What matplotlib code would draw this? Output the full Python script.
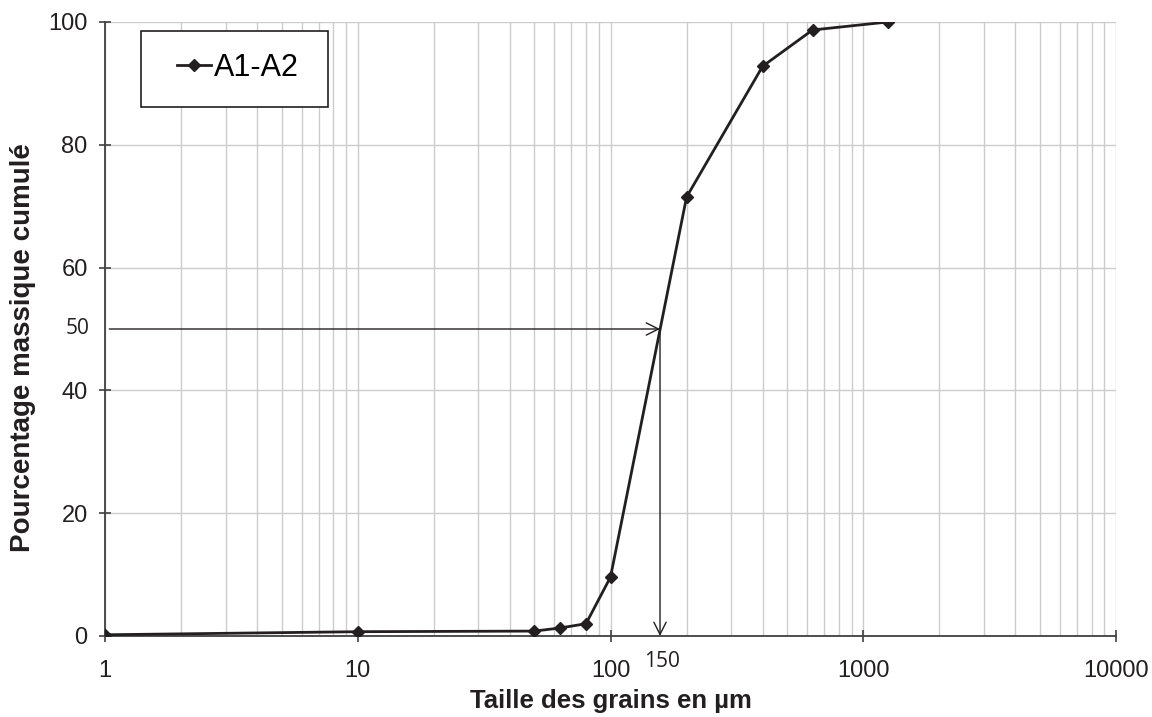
import matplotlib.pyplot as plt
from matplotlib.patches import Rectangle
from matplotlib.ticker import FixedLocator, NullFormatter

# données granulométriques
taille = [1, 10, 50, 63, 80, 100, 200, 400, 630, 1250]
cumul = [0.2, 0.7, 0.8, 1.3, 2.0, 9.6, 71.5, 92.8, 98.7, 100]
d50_pos = 157   # position lue de la flèche
d50_label = '150'
y50 = 50

plt.rcParams['font.family'] = ['Liberation Sans', 'DejaVu Sans']

fig = plt.figure(figsize=(11.52, 7.17), dpi=100)
ax = fig.add_axes([105 / 1152, 1 - 636 / 717, (1116 - 105) / 1152, (636 - 22) / 717])

ax.plot(taille, cumul, color='#231f20', lw=2, marker='D', ms=6.5, zorder=3, label='A1-A2')

ax.set_xscale('log')
ax.set_xlim(1, 10000)
ax.set_ylim(0, 100)
ax.set_yticks([0, 20, 40, 60, 80, 100])
ax.xaxis.set_minor_locator(FixedLocator([k * 10 ** e for e in range(4) for k in range(2, 10)]))
ax.xaxis.set_minor_formatter(NullFormatter())
ax.set_xticks([1, 10, 100, 1000, 10000])
ax.set_xticklabels(['1', '10', '100', '1000', '10000'])

ax.grid(True, which='both', axis='x', color='#cccccc', lw=1)
ax.grid(True, which='major', axis='y', color='#cccccc', lw=1)
ax.set_axisbelow(True)
for s in ['top', 'right']:
    ax.spines[s].set_visible(False)
for s in ['left', 'bottom']:
    ax.spines[s].set_color('#404040')
    ax.spines[s].set_linewidth(1.3)

ax.tick_params(axis='both', which='major', labelsize=17, colors='#404040',
               labelcolor='#231f20', length=9, direction='inout', width=1.2)
ax.tick_params(axis='x', which='minor', length=0)
ax.tick_params(axis='x', pad=13)
ax.tick_params(axis='y', pad=8)

ax.set_xlabel('Taille des grains en µm', fontsize=18.5, fontweight='bold',
              color='#231f20', labelpad=5)
ax.set_ylabel('Pourcentage massique cumulé', fontsize=20, fontweight='bold',
              color='#231f20')
ax.yaxis.set_label_coords(-0.068, 0.47)

# flèches du d50
ax.annotate('', xy=(d50_pos, y50), xytext=(1.04, y50),
            arrowprops=dict(arrowstyle='->', color='#231f20', lw=1, mutation_scale=22,
                            shrinkA=0, shrinkB=0))
ax.annotate('', xy=(d50_pos, 0), xytext=(d50_pos, y50),
            arrowprops=dict(arrowstyle='->', color='#231f20', lw=1, mutation_scale=22,
                            shrinkA=0, shrinkB=0))
ax.text(-0.015, y50, str(y50), transform=ax.get_yaxis_transform(), fontsize=15,
        family='Open Sans', color='#231f20', ha='right', va='center')
ax.text(d50_pos + 3, -0.025, d50_label, transform=ax.get_xaxis_transform(), fontsize=15,
        family='Open Sans', color='#231f20', ha='center', va='top')

# légende : cadre dessiné à part
ax.add_patch(Rectangle((0.0356, 0.8616), 0.185, 0.1237, transform=ax.transAxes,
                       facecolor='white', edgecolor='#231f20', lw=1.2, zorder=4))
leg = ax.legend(loc='center left', bbox_to_anchor=(0.0712, 0.925), fontsize=22,
                frameon=False, handlelength=1.1, handletextpad=0.1,
                borderpad=0, borderaxespad=0)
leg.set_zorder(5)

fig.savefig('out.png', dpi=100)
